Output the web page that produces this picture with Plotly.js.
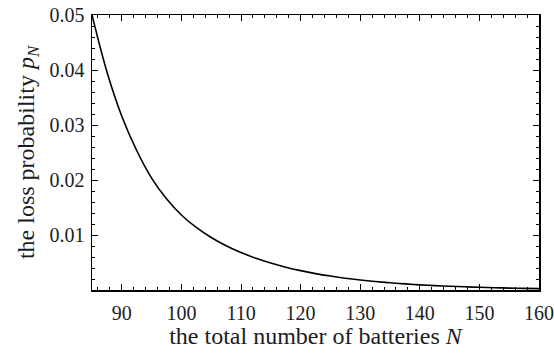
<!DOCTYPE html>
<html>
<head>
<meta charset="utf-8">
<script src="https://cdn.plot.ly/plotly-3.0.1.min.js"></script>
<style>html,body{margin:0;padding:0;background:#fff;}#chart{width:554px;height:354px;}</style>
</head>
<body>
<div id="chart"></div>
<script>
const batteriesN = [85, 87.5, 90, 92.5, 95, 97.5, 100, 102.5, 105, 107.5, 110, 112.5, 115, 117.5, 120, 122.5, 125, 127.5, 130, 132.5, 135, 137.5, 140, 142.5, 145, 147.5, 150, 152.5, 155, 157.5, 160];
const lossProb  = [0.05000, 0.03970, 0.03160, 0.02536, 0.02035, 0.01658, 0.01364, 0.01137, 0.00954, 0.00805, 0.00681, 0.00578, 0.00490, 0.00415, 0.00352, 0.00298, 0.00253, 0.00214, 0.00182, 0.00155, 0.00131, 0.00111, 0.00094, 0.00080, 0.00068, 0.00058, 0.00049, 0.00042, 0.00035, 0.00030, 0.00025];
const xTickVals = [90, 100, 110, 120, 130, 140, 150, 160];
const yTickVals = [0.01, 0.02, 0.03, 0.04, 0.05];
const yTickText = ["0.01", "0.02", "0.03", "0.04", "0.05"];

const serif = "Liberation Serif, Times New Roman, serif";
const tickFont = {family: serif, size: 20, color: "#1c1c24"};
const titleFont = {family: serif, size: 24, color: "#1c1c24"};

Plotly.newPlot("chart", [{
  x: batteriesN, y: lossProb, mode: "lines", type: "scatter",
  line: {color: "#000", width: 1.6, shape: "spline", smoothing: 1},
  hoverinfo: "skip"
}], {
  width: 554, height: 354,
  margin: {l: 92, r: 15, t: 15, b: 64},
  paper_bgcolor: "#fff", plot_bgcolor: "#fff",
  showlegend: false,
  font: tickFont,
  xaxis: {
    range: [85, 160], tickvals: xTickVals, ticktext: xTickVals.map(String),
    ticks: "inside", ticklen: 6, tickwidth: 1, tickcolor: "#000", ticklabelstandoff: 4,
    minor: {dtick: 2, tick0: 0, ticks: "inside", ticklen: 3, tickcolor: "#000", showgrid: false},
    showline: true, linecolor: "#000", linewidth: 1.5, mirror: "ticks",
    showgrid: false, zeroline: false, tickfont: tickFont, automargin: false,
    title: {text: "the total number of batteries <i>N</i>", font: titleFont, standoff: 2}
  },
  yaxis: {
    range: [0, 0.05], tickvals: yTickVals, ticktext: yTickText,
    ticks: "inside", ticklen: 6, tickwidth: 1, tickcolor: "#000", ticklabelstandoff: 2,
    minor: {dtick: 0.002, tick0: 0, ticks: "inside", ticklen: 3, tickcolor: "#000", showgrid: false},
    showline: true, linecolor: "#000", linewidth: 1.5, mirror: "ticks",
    showgrid: false, zeroline: false, tickfont: tickFont, automargin: false,
    title: {text: "the loss probability <i>p<sub>N</sub></i>", font: titleFont, standoff: 8}
  }
}, {displayModeBar: false, staticPlot: true});
</script>
</body>
</html>
